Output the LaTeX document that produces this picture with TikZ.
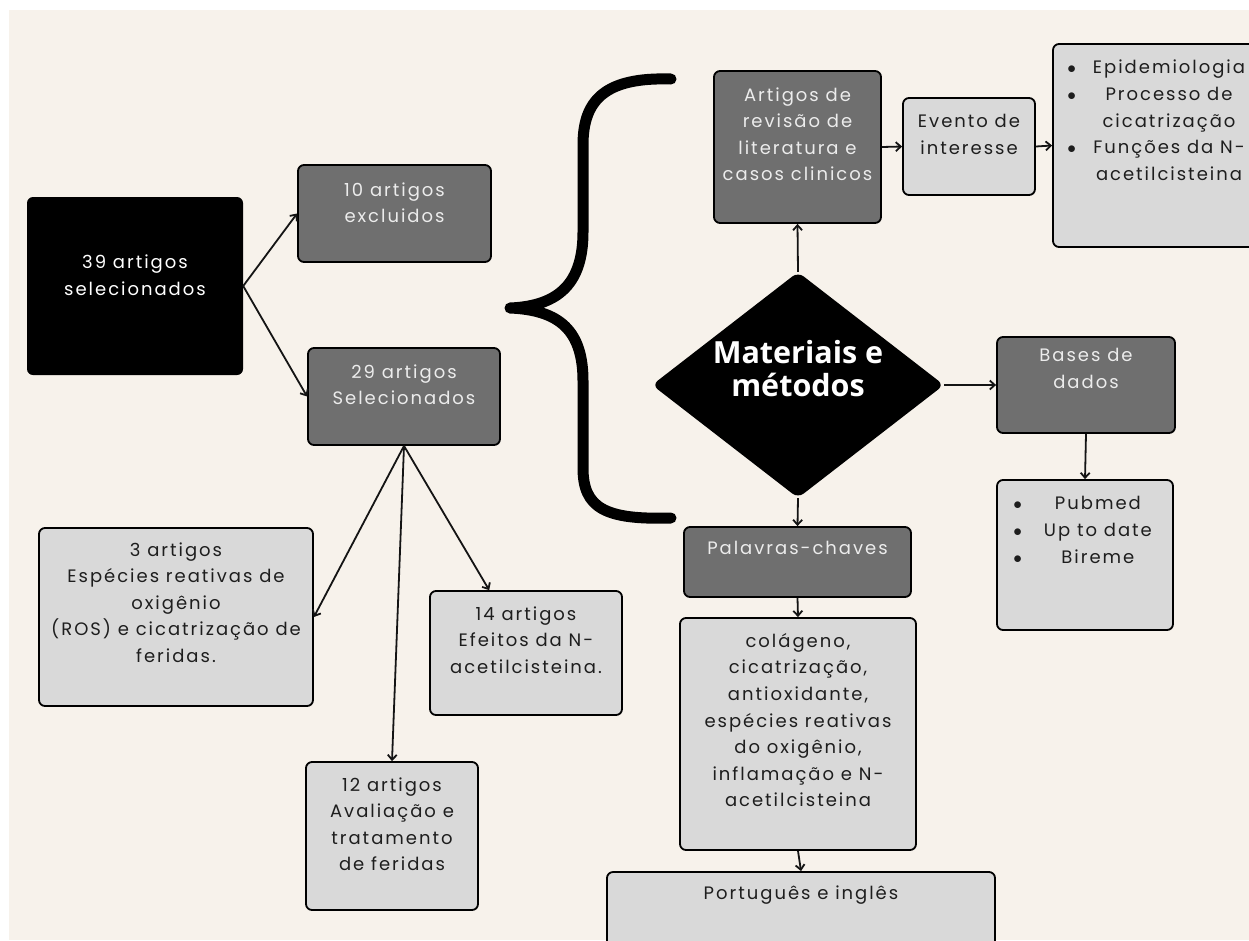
\documentclass[tikz,border=0pt]{standalone}
\usepackage{fontspec}
\setmainfont{Poppins}[LetterSpace=11]
\newfontfamily\titlefont{Open Sans}
\usetikzlibrary{shapes.geometric,arrows.meta,calc}
\definecolor{bg}{HTML}{F7F2EB}
\definecolor{boxdark}{HTML}{6F6F6F}
\definecolor{boxlight}{HTML}{D9D9D9}
\definecolor{txtlight}{HTML}{ECECEC}
\definecolor{txtdark}{HTML}{1E1E1E}
\newcommand{\bodyfnt}{\fontsize{18}{26.6}\selectfont}
\tikzset{
  box/.style={draw=black, line width=1.8pt, rounded corners=6pt, inner sep=0pt},
  darkbox/.style={box, fill=boxdark},
  lightbox/.style={box, fill=boxlight},
  blackbox/.style={fill=black, rounded corners=6pt, inner sep=0pt},
  dtxt/.style={text=txtlight, align=center, font=\bodyfnt, inner sep=0pt},
  wtxt/.style={text=white, align=center, font=\bodyfnt, inner sep=0pt},
  ltxt/.style={text=txtdark, align=center, font=\bodyfnt, inner sep=0pt},
  ttxt/.style={text=white, align=center, font=\titlefont\bfseries\fontsize{30.5}{33}\selectfont, inner sep=0pt},
  conn/.style={-{Straight Barb[length=5pt,width=9pt]}, line width=1.8pt, draw=black!92},
}
\begin{document}
\begin{tikzpicture}[x=1pt,y=-1pt]
\clip (0,0) rectangle (1249,940);
\fill[white] (0,0) rectangle (1249,940);
\fill[bg] (9,10) rectangle (1249,940);

% left part
\node[blackbox, minimum width=216, minimum height=178,
  label={[wtxt,anchor=north,yshift=-58]north:{39 artigos\\selecionados}}] (n39) at (135,286) {};
\node[darkbox, minimum width=193, minimum height=97,
  label={[dtxt,anchor=north,yshift=-18]north:{10 artigos\\excluidos}}] (n10) at (394.5,213.5) {};
\node[darkbox, minimum width=192, minimum height=97,
  label={[dtxt,anchor=north,yshift=-17]north:{29 artigos\\Selecionados}}] (n29) at (404,396.5) {};
\node[lightbox, minimum width=274, minimum height=178,
  label={[ltxt,anchor=north,yshift=-15]north:{3 artigos\\Espécies reativas de\\oxigênio\\(ROS) e cicatrização de\\feridas.}}] (n3) at (176,617) {};
\node[lightbox, minimum width=192, minimum height=124,
  label={[ltxt,anchor=north,yshift=-16]north:{14 artigos\\Efeitos da N-\\acetilcisteina.}}] (n14) at (526,653) {};
\node[lightbox, minimum width=172, minimum height=148,
  label={[ltxt,anchor=north,yshift=-16]north:{12 artigos\\Avaliação e\\tratamento\\de feridas}}] (n12) at (392,836) {};

% right part
\node[darkbox, minimum width=167, minimum height=152,
  label={[dtxt,anchor=north,yshift=-17]north:{Artigos de\\revisão de\\literatura e\\casos clinicos}}] (art) at (797.5,147) {};
\node[lightbox, minimum width=132, minimum height=97,
  label={[ltxt,anchor=north,yshift=-17]north:{Evento de\\interesse}}] (ev) at (969,146.5) {};
\node[lightbox, minimum width=222, minimum height=203] (tr) at (1164,145.5) {};
\node[ltxt, anchor=north west] (trtxt) at ($(tr.north west)+(15,12)$)
  {\begin{tabular}{@{}c@{\hspace{17pt}}c@{}}
   $\bullet$ & Epidemiologia\\
   $\bullet$ & Processo de\\
             & cicatrização\\
   $\bullet$ & Funções da N-\\
             & acetilcisteina
   \end{tabular}};
\node[diamond, fill=black, minimum width=292, minimum height=226, inner sep=0pt, rounded corners=7pt,
  label={[ttxt,anchor=center,yshift=16]center:{Materiais e\\métodos}}] (dia) at (798,385) {};
\node[darkbox, minimum width=178, minimum height=96,
  label={[dtxt,anchor=north,yshift=-12]north:{Bases de\\dados}}] (bases) at (1086,385) {};
\node[lightbox, minimum width=176, minimum height=150] (pub) at (1085,555) {};
\node[ltxt, anchor=north west] (pubtxt) at ($(pub.north west)+(17,12)$)
  {\begin{tabular}{@{}c@{\hspace{22pt}}c@{}}
   $\bullet$ & Pubmed\\
   $\bullet$ & Up to date\\
   $\bullet$ & Bireme
   \end{tabular}};
\node[darkbox, minimum width=227, minimum height=70,
  label={[dtxt,anchor=north,yshift=-15]north:{Palavras-chaves}}] (pal) at (797.5,562) {};
\node[lightbox, minimum width=236, minimum height=232,
  label={[ltxt,anchor=north,yshift=-16]north:{colágeno,\\cicatrização,\\antioxidante,\\espécies reativas\\do oxigênio,\\inflamação e N-\\acetilcisteina}}] (col) at (798,734) {};
\node[lightbox, minimum width=388, minimum height=98,
  label={[ltxt,anchor=north,yshift=-14]north:{Português e inglês}}] (por) at (801,921) {};

% brace
\draw[line width=11pt, line cap=round, line join=round]
  (671,79) .. controls (605,77) and (583,100) .. (583,145) -- (583,232)
  .. controls (583,282) and (560,306) .. (510,308)
  .. controls (560,310) and (583,331) .. (583,381) -- (583,468)
  .. controls (583,508) and (605,520) .. (671,518);

% connectors
\draw[conn] (n39.east) -- (n10.west);
\draw[conn] (n39.east) -- (n29.west);
\draw[conn] (n29.south) -- (n3.east);
\draw[conn] (n29.south) -- (n12.north);
\draw[conn] (n29.south) -- ($(n14.north west)!0.31!(n14.north east)$);
\draw[conn] (dia.north) -- (art.south);
\draw[conn] (art.east) -- (ev.west);
\draw[conn] (ev.east) -- (tr.west);
\draw[conn] (dia.east) -- (bases.west);
\draw[conn] (bases.south) -- (pub.north);
\draw[conn] (dia.south) -- (pal.north);
\draw[conn] (pal.south) -- (col.north);
\draw[conn] (col.south) -- (por.north);
\end{tikzpicture}
\end{document}
